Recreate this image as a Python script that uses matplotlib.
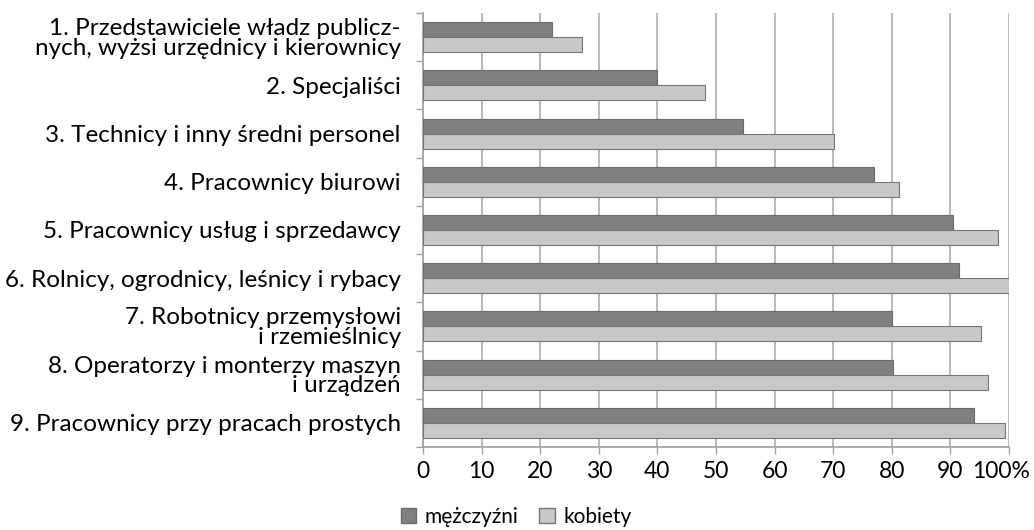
import matplotlib.pyplot as plt
import matplotlib.transforms as mtransforms
import numpy as np
from matplotlib.patches import Patch

plt.rcParams['font.family'] = ['Lato', 'DejaVu Sans']

categories = [
    "1. Przedstawiciele władz publicz-\nnych, wyżsi urzędnicy i kierownicy",
    "2. Specjaliści",
    "3. Technicy i inny średni personel",
    "4. Pracownicy biurowi",
    "5. Pracownicy usług i sprzedawcy",
    "6. Rolnicy, ogrodnicy, leśnicy i rybacy",
    "7. Robotnicy przemysłowi\ni rzemieślnicy",
    "8. Operatorzy i monterzy maszyn\ni urządzeń",
    "9. Pracownicy przy pracach prostych",
]
men = [22.0, 39.9, 54.6, 77.0, 90.5, 91.4, 80.1, 80.2, 94.0]
women = [27.1, 48.2, 70.2, 81.2, 98.2, 100.0, 95.3, 96.4, 99.3]
xticks = [0, 10, 20, 30, 40, 50, 60, 70, 80, 90, 100]
xticklabels = ["0", "10", "20", "30", "40", "50", "60", "70", "80", "90", "100%"]

fig = plt.figure(figsize=(10.34, 5.30), dpi=100)
ax = fig.add_axes([423 / 1034, 1 - 447 / 530, 586 / 1034, 434 / 530])

y = np.arange(len(categories))
h = 0.31
ax.barh(y - h / 2, men, height=h, color="#808080", edgecolor="#6a6a6a",
        linewidth=0.8, label="mężczyźni", zorder=3)
ax.barh(y + h / 2, women, height=h, color="#c8c8c8", edgecolor="#767676",
        linewidth=0.8, label="kobiety", zorder=3)

ax.set_ylim(len(categories) - 0.5, -0.5)
ax.set_xlim(0, 100)

ax.set_yticks(y)
ax.set_yticklabels(categories, fontsize=17.5, linespacing=0.93)
ax.tick_params(axis="y", which="major", length=0, pad=16)
ax.set_yticks(np.arange(len(categories) + 1) - 0.5, minor=True)
ax.tick_params(axis="y", which="minor", length=5, color="#a0a0a0", width=1)

ax.set_xticks(xticks)
ax.set_xticklabels(xticklabels, fontsize=16.5)
ax.tick_params(axis="x", length=5, color="#a0a0a0", width=1, pad=5)
last = ax.get_xticklabels()[-1]
last.set_transform(last.get_transform() +
                   mtransforms.ScaledTranslation(-8 / 100, 0, fig.dpi_scale_trans))

ax.grid(axis="x", color="#b4b4b4", linewidth=1.3, zorder=0)
for s in ["top", "right"]:
    ax.spines[s].set_visible(False)
for s in ["left", "bottom"]:
    ax.spines[s].set_color("#a0a0a0")
    ax.spines[s].set_linewidth(1.2)

handles = [Patch(facecolor="#808080", edgecolor="#6a6a6a", label="mężczyźni"),
           Patch(facecolor="#c8c8c8", edgecolor="#767676", label="kobiety")]
fig.legend(handles=handles, loc="center", bbox_to_anchor=(516 / 1034, 1 - 517 / 530),
           ncol=2, frameon=False, fontsize=15, handlelength=0.75, handleheight=0.75,
           handletextpad=0.4, columnspacing=1.0)

fig.savefig("out.png", dpi=100)
